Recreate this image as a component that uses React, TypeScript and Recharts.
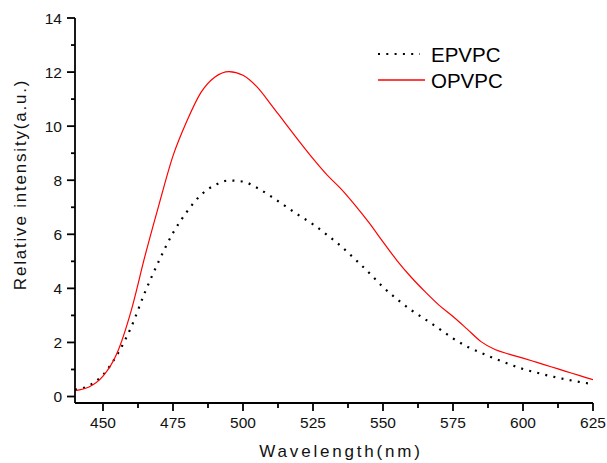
import { LineChart, Line, XAxis, YAxis, Legend } from 'recharts';

// wavelength (nm)
const wavelengths = [
  440, 445, 450, 455, 460, 465, 470, 475, 480, 485, 490, 495, 500, 505, 510, 515, 520, 525, 530,
  535, 540, 545, 550, 555, 560, 565, 570, 575, 580, 585, 590, 595, 600, 605, 610, 615, 620, 625,
];

const epvpc = [
  0.25, 0.4, 0.8, 1.54, 2.55, 3.86, 5.02, 6.05, 6.84, 7.46, 7.82, 7.99, 7.95, 7.72, 7.4, 7.05, 6.7, 6.37, 5.98,
  5.56, 5.08, 4.58, 4.05, 3.6, 3.2, 2.86, 2.51, 2.15, 1.85, 1.62, 1.4, 1.2, 1.02, 0.88, 0.75, 0.64, 0.54, 0.46,
];

const opvpc = [
  0.22, 0.35, 0.75, 1.6, 3.15, 5.2, 7.1, 8.9, 10.2, 11.25, 11.82, 12.02, 11.88, 11.45, 10.8, 10.12, 9.45, 8.8, 8.2,
  7.68, 7.08, 6.43, 5.72, 5.03, 4.42, 3.88, 3.38, 2.96, 2.5, 2.03, 1.74, 1.57, 1.42, 1.26, 1.1, 0.94, 0.78, 0.62,
];

// major + minor ticks
const xTicks = [450, 462.5, 475, 487.5, 500, 512.5, 525, 537.5, 550, 562.5, 575, 587.5, 600, 612.5, 625];
const yTicks = [0, 1, 2, 3, 4, 5, 6, 7, 8, 9, 10, 11, 12, 13, 14];

const data = wavelengths.map((nm, i) => ({ nm, EPVPC: epvpc[i], OPVPC: opvpc[i] }));

const FONT = '"Liberation Sans", Arial, sans-serif';

const XTick = ({ x, y, payload }: any) => {
  const major = payload.value % 25 === 0;
  return (
    <g>
      <line x1={x} x2={x} y1={y} y2={y + (major ? 8 : 5)} stroke="#000" strokeWidth={1.8} />
      {major && (
        <text x={x} y={y + 25} textAnchor="middle" fontSize={15.5} fontFamily={FONT} fill="#111">
          {payload.value}
        </text>
      )}
    </g>
  );
};

const YTick = ({ x, y, payload }: any) => {
  const major = payload.value % 2 === 0;
  return (
    <g>
      <line x1={x - (major ? 8 : 4)} x2={x} y1={y} y2={y} stroke="#000" strokeWidth={1.8} />
      {major && (
        <text x={x - 13} y={y} dy="0.36em" textAnchor="end" fontSize={15.5} fontFamily={FONT} fill="#111">
          {payload.value}
        </text>
      )}
    </g>
  );
};

const LegendBox = () => (
  <svg width={150} height={60} style={{ display: 'block' }}>
    <line x1={8} x2={50} y1={14} y2={14} stroke="#000" strokeWidth={2.2} strokeDasharray="2 6.3" />
    <text x={61} y={22} fontSize={20.5} fontFamily={FONT} fill="#000">EPVPC</text>
    <line x1={8} x2={55} y1={40} y2={40} stroke="#ff0000" strokeWidth={1.3} />
    <text x={61} y={48} fontSize={20.5} fontFamily={FONT} fill="#000">OPVPC</text>
  </svg>
);

export default function App() {
  return (
    <div style={{ position: 'absolute', left: 0, top: 0, background: '#fff' }}>
      <LineChart width={607} height={463} data={data} margin={{ top: 18, right: 14, bottom: 0, left: 0 }}>
        <XAxis
          dataKey="nm"
          type="number"
          domain={[440, 625]}
          ticks={xTicks}
          interval={0}
          tickSize={0}
          tickMargin={0}
          tick={<XTick />}
          height={60}
          axisLine={{ stroke: '#000', strokeWidth: 1.8 }}
          tickLine={false}
          allowDataOverflow
        />
        <YAxis
          type="number"
          domain={[-0.24, 14]}
          ticks={yTicks}
          interval={0}
          tickSize={0}
          tickMargin={0}
          tick={<YTick />}
          width={75}
          axisLine={{ stroke: '#000', strokeWidth: 1.8 }}
          tickLine={false}
          allowDataOverflow
        />
        <Legend
          layout="vertical"
          align="center"
          verticalAlign="middle"
          content={<LegendBox />}
          wrapperStyle={{ left: 370, top: 40, width: 150, height: 60 }}
        />
        <Line
          type="monotone"
          dataKey="EPVPC"
          stroke="#000"
          strokeWidth={2.2}
          strokeDasharray="2 6.3"
          dot={false}
          isAnimationActive={false}
        />
        <Line
          type="monotone"
          dataKey="OPVPC"
          stroke="#ff0000"
          strokeWidth={1.2}
          dot={false}
          isAnimationActive={false}
        />
        <text x={341} y={457} textAnchor="middle" fontSize={17} letterSpacing={2.8} fontFamily={FONT} fill="#111">
          Wavelength(nm)
        </text>
        <text
          x={25.5}
          y={184.5}
          textAnchor="middle"
          fontSize={17}
          letterSpacing={1.8}
          fontFamily={FONT}
          fill="#111"
          transform="rotate(-90 25.5 184.5)"
        >
          Relative intensity(a.u.)
        </text>
      </LineChart>
    </div>
  );
}
